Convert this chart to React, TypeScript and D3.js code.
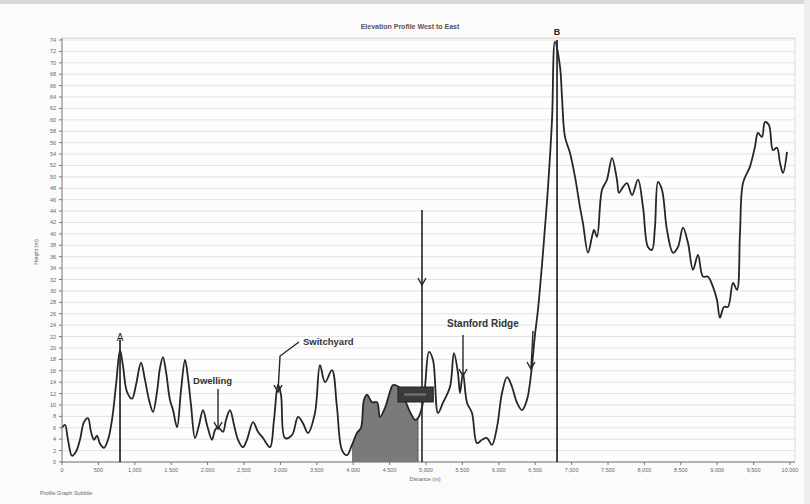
import React from "react";
import * as d3 from "d3";

// Elevation profile (distance in m, height in m)
const distances = [
  0, 41, 82, 137, 192, 247, 302, 357, 398, 440, 481, 522, 577, 632, 687, 742, 797, 838, 893, 962,
  1016, 1085, 1140, 1195, 1250, 1305, 1346, 1387, 1429, 1483, 1525, 1580, 1635, 1690, 1731, 1772, 1827, 1882, 1937, 1992,
  2060, 2102, 2143, 2211, 2253, 2308, 2363, 2418, 2486, 2541, 2624, 2692, 2761, 2857, 2912, 2967, 3008, 3063, 3159, 3242,
  3310, 3379, 3475, 3544, 3613, 3709, 3777, 3846, 3915, 3983, 4052, 4107, 4148, 4189, 4258, 4327, 4368, 4437, 4505, 4547,
  4643, 4711, 4780, 4849, 4890, 4945, 4986, 5041, 5096, 5165, 5233, 5330, 5384, 5439, 5467, 5508, 5563, 5632, 5700, 5769,
  5838, 5906, 5975, 6044, 6113, 6181, 6250, 6319, 6387, 6442, 6497, 6538, 6607, 6676, 6731, 6772, 6841, 6868, 6909, 6978,
  7047, 7115, 7156, 7225, 7280, 7308, 7349, 7417, 7486, 7555, 7623, 7651, 7706, 7761, 7830, 7912, 7981, 8049, 8104, 8145,
  8187, 8242, 8310, 8393, 8461, 8530, 8599, 8667, 8736, 8805, 8873, 8942, 8997, 9038, 9093, 9148, 9217, 9272, 9313, 9354,
  9450, 9519, 9560, 9615, 9656, 9711, 9766, 9821, 9862, 9904, 9959,
];
const heights = [
  6.0, 6.5, 3.9, 1.1, 1.8, 3.9, 7.0, 7.7, 5.3, 3.9, 4.6, 3.2, 2.5, 3.9, 7.4, 13.5, 19.6, 16.8, 12.3, 11.1,
  13.5, 17.4, 14.4, 10.9, 8.8, 12.3, 16.5, 18.4, 15.8, 10.9, 9.1, 6.1, 12.6, 17.9, 14.7, 10.0, 4.2, 6.5, 9.1, 6.5,
  3.9, 5.6, 6.1, 5.3, 7.4, 9.1, 6.5, 3.9, 2.6, 3.9, 7.0, 5.3, 4.2, 2.6, 7.4, 13.5, 11.8, 4.2, 4.7, 7.9,
  6.8, 5.1, 8.6, 17.0, 14.0, 16.1, 9.6, 2.1, 1.2, 3.0, 5.1, 6.0, 10.9, 11.8, 10.5, 10.5, 7.9, 9.5, 12.3, 13.5,
  13.0, 10.9, 8.8, 7.4, 7.7, 9.6, 13.2, 19.3, 17.9, 8.6, 10.4, 13.2, 19.1, 15.6, 12.1, 15.6, 10.4, 8.6, 3.3, 3.9,
  4.2, 3.0, 6.1, 12.1, 14.9, 13.2, 10.4, 9.1, 10.9, 15.3, 22.3, 26.7, 36.7, 48.2, 60.0, 73.7, 69.3, 64.0, 57.0, 54.2,
  50.0, 44.7, 41.9, 36.7, 39.5, 40.7, 39.5, 47.7, 49.5, 53.3, 49.5, 47.2, 48.2, 48.9, 46.8, 49.5, 44.7, 37.7, 37.2, 41.2,
  49.1, 47.7, 40.7, 36.7, 37.7, 41.1, 38.4, 33.7, 36.3, 32.5, 32.5, 30.7, 28.4, 25.3, 27.2, 27.2, 31.4, 30.2, 40.2, 48.9,
  51.8, 55.3, 57.7, 57.0, 59.6, 59.1, 54.7, 55.1, 52.5, 50.7, 54.4,
];

// highlighted (shaded) stretch of the profile
const shadedFrom = 3983;
const shadedTo = 4890;

const xTickValues = d3.range(0, 10001, 500);
const yTickValues = d3.range(0, 75, 2);

const titleText = "Elevation Profile West to East";
const xAxisTitle = "Distance (m)";
const yAxisTitle = "Height (m)";
const footerText = "Profile Graph Subtitle";

const W = 810;
const H = 504;

export default function App() {
  const x = d3.scaleLinear().domain([0, 10000]).range([62, 790]);
  const y = d3.scaleLinear().domain([0, 74]).range([462, 40]);

  const pts = distances.map((d, i) => ({ d, h: heights[i] }));
  const line = d3
    .line<{ d: number; h: number }>()
    .x((p) => x(p.d))
    .y((p) => y(p.h))
    .curve(d3.curveCatmullRom.alpha(0.5));
  const area = d3
    .area<{ d: number; h: number }>()
    .x((p) => x(p.d))
    .y0(y(0))
    .y1((p) => y(p.h))
    .curve(d3.curveCatmullRom.alpha(0.5));
  const shaded = pts.filter((p) => p.d >= shadedFrom && p.d <= shadedTo);

  const fmt = d3.format(",");
  const ink = "#262626";
  const font = "Liberation Sans, Arial, sans-serif";

  const arrowHead = (ax: number, ay: number, key: string) => (
    <path
      key={key}
      d={`M${ax - 4},${ay - 7} L${ax},${ay} L${ax + 4},${ay - 7}`}
      fill="none"
      stroke={ink}
      strokeWidth={1.4}
    />
  );

  return (
    <div style={{ position: "absolute", left: 0, top: 0 }}>
      <svg width={W} height={H} style={{ display: "block", background: "#fbfbfb" }}>
        <rect x={0} y={0} width={W} height={4} fill="#d8d8d8" />
        <rect x={W - 6} y={0} width={6} height={H} fill="#eeeeee" />
        {/* plot background */}
        <rect x={62} y={38} width={733} height={424} fill="#fdfdfd" />
        {/* gridlines */}
        {yTickValues.map((t) => (
          <line key={"g" + t} x1={62} x2={795} y1={y(t)} y2={y(t)} stroke="#dcdcdc" strokeWidth={0.8} />
        ))}
        <line x1={62} x2={795} y1={38} y2={38} stroke="#d0d0d0" strokeWidth={1} />
        <line x1={795} x2={795} y1={38} y2={462} stroke="#dddddd" strokeWidth={1} />

        {/* title */}
        <text x={410} y={29} textAnchor="middle" fontFamily={font} fontSize={7} fontWeight="bold" fill="#555">
          {titleText}
        </text>

        {/* shaded area */}
        <path d={area(shaded) || ""} fill="#7a7a7a" />
        <line x1={x(shadedTo)} x2={x(shadedTo)} y1={y(heights[distances.indexOf(shadedTo)])} y2={y(0)} stroke="#555" strokeWidth={1} />

        {/* profile */}
        <path d={line(pts) || ""} fill="none" stroke={ink} strokeWidth={1.8} strokeLinejoin="round" />

        {/* axes */}
        <line x1={62} x2={62} y1={38} y2={462} stroke="#777" strokeWidth={1} />
        <line x1={62} x2={795} y1={462} y2={462} stroke="#777" strokeWidth={1} />
        {yTickValues.map((t) => (
          <g key={"yt" + t}>
            <line x1={59} x2={62} y1={y(t)} y2={y(t)} stroke="#777" />
            <text x={56} y={y(t) + 2} textAnchor="end" fontFamily={font} fontSize={5.5} fill="#666">
              {t}
            </text>
          </g>
        ))}
        {xTickValues.map((t) => (
          <g key={"xt" + t}>
            <line x1={x(t)} x2={x(t)} y1={462} y2={465} stroke="#777" />
            <text x={x(t)} y={472} textAnchor="middle" fontFamily={font} fontSize={5.5} fill="#666">
              {fmt(t)}
            </text>
          </g>
        ))}
        <text x={425} y={481} textAnchor="middle" fontFamily={font} fontSize={5.5} fill="#666">
          {xAxisTitle}
        </text>
        <text transform="translate(38,252) rotate(-90)" textAnchor="middle" fontFamily={font} fontSize={5.5} fill="#666">
          {yAxisTitle}
        </text>
        <text x={40} y={495} fontFamily={font} fontSize={5.5} fill="#666">
          {footerText}
        </text>

        {/* A marker */}
        <line x1={x(797)} x2={x(797)} y1={y(0)} y2={y(21.5)} stroke={ink} strokeWidth={1.7} />
        <text x={x(797)} y={y(21.5) + 2} textAnchor="middle" fontFamily={font} fontSize={10} fill={ink}>
          A
        </text>

        {/* B marker */}
        <line x1={x(6800)} x2={x(6800)} y1={y(0)} y2={y(74)} stroke={ink} strokeWidth={1.7} />
        <text x={x(6800)} y={35} textAnchor="middle" fontFamily={font} fontSize={9} fontWeight="bold" fill={ink}>
          B
        </text>

        {/* Dwelling */}
        <text x={x(1800)} y={384} fontFamily={font} fontSize={9.5} fontWeight="bold" fill="#333">
          Dwelling
        </text>
        <line x1={x(2143)} x2={x(2143)} y1={389} y2={429} stroke={ink} strokeWidth={1.4} />
        {arrowHead(x(2143), 429, "a1")}

        {/* Switchyard */}
        <text x={x(3310)} y={345} fontFamily={font} fontSize={9.5} fontWeight="bold" fill="#333">
          Switchyard
        </text>
        <polyline points={`${x(3255)},342 ${x(2995)},356 ${x(2967)},392`} fill="none" stroke={ink} strokeWidth={1.4} />
        {arrowHead(x(2967), 392, "a2")}

        {/* Big vertical arrow */}
        <line x1={x(4945)} x2={x(4945)} y1={210} y2={462} stroke={ink} strokeWidth={1.6} />
        {arrowHead(x(4945), 285, "a3")}

        {/* dark box */}
        <rect x={x(4615)} y={387} width={x(5100) - x(4615)} height={15} fill="#3a3a3a" stroke="#222" strokeWidth={1} />
        <line x1={x(4700)} x2={x(5000)} y1={394.5} y2={394.5} stroke="#777" strokeWidth={2} />

        {/* Stanford Ridge */}
        <text x={x(5290)} y={327} fontFamily={font} fontSize={10} fontWeight="bold" fill="#333">
          Stanford Ridge
        </text>
        <line x1={x(5508)} x2={x(5508)} y1={335} y2={376} stroke={ink} strokeWidth={1.4} />
        {arrowHead(x(5508), 376, "a4")}
        <line x1={x(6470)} x2={x(6442)} y1={331} y2={369} stroke={ink} strokeWidth={1.4} />
        {arrowHead(x(6442), 369, "a5")}
      </svg>
    </div>
  );
}
